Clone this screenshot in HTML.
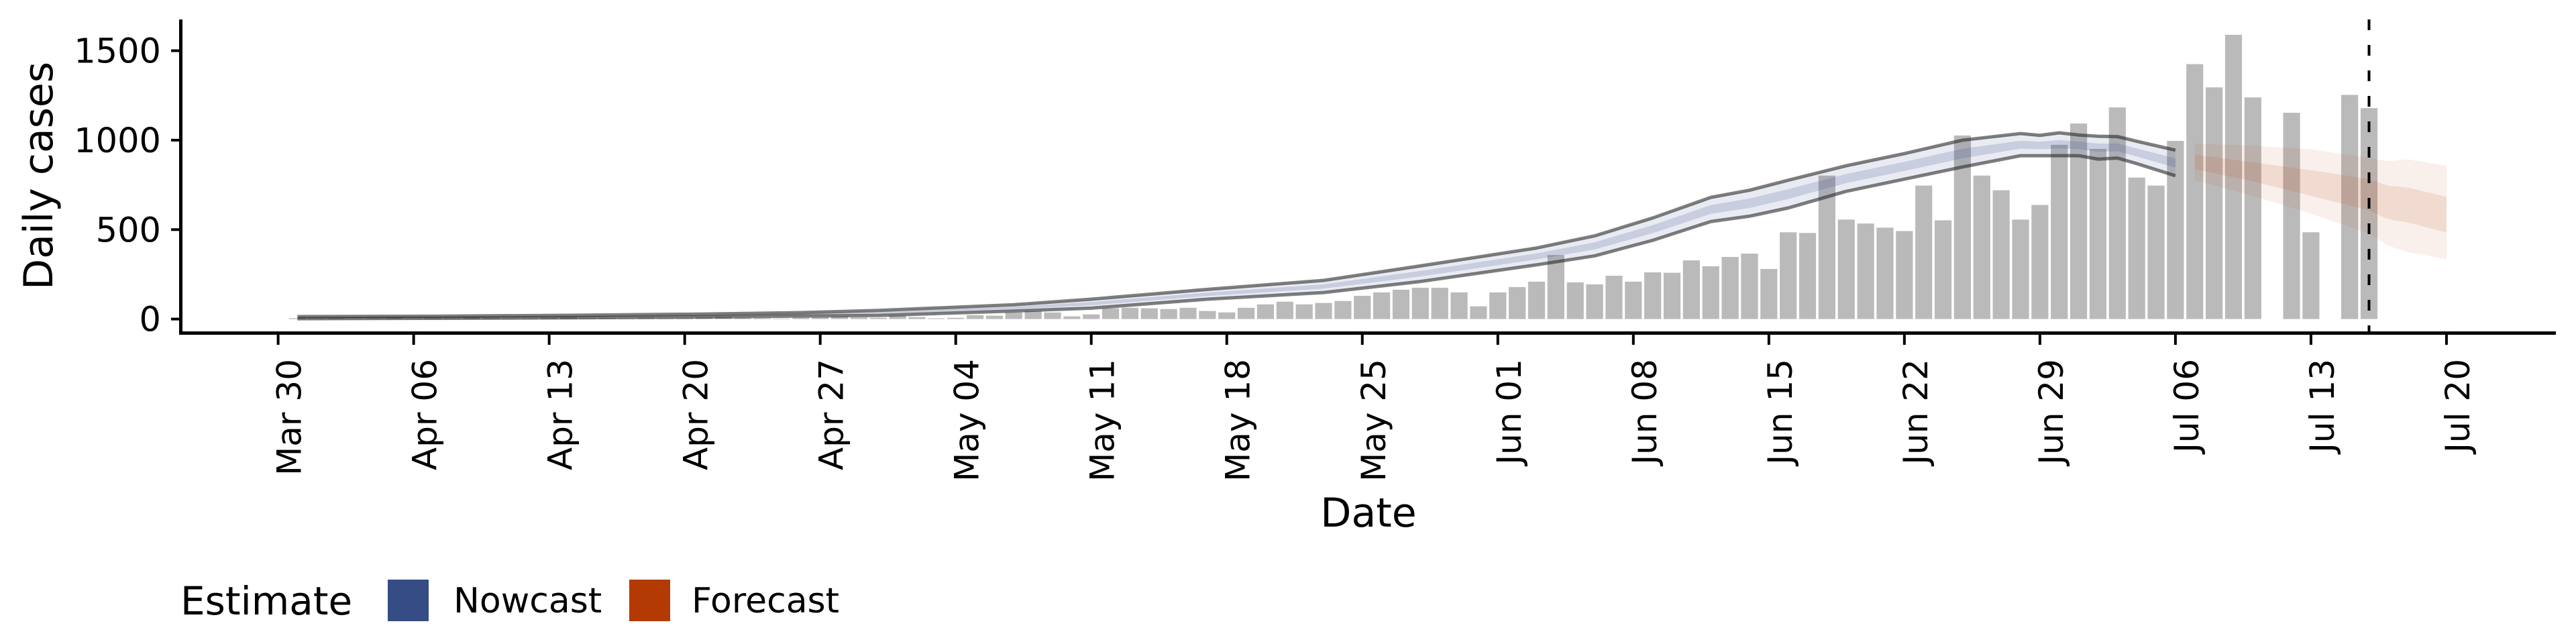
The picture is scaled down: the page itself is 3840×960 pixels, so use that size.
<!DOCTYPE html>
<html><head><meta charset="utf-8"><style>
html,body{margin:0;padding:0;background:#fff;width:3840px;height:960px;overflow:hidden}
svg{display:block}
text{font-family:"DejaVu Sans","Liberation Sans",sans-serif;fill:#000}
</style></head><body>
<svg id="chart" width="3840" height="960" viewBox="0 0 3840 960" xmlns="http://www.w3.org/2000/svg">
<g id="bars"></g>
<g id="bands"></g>
<g id="axes"></g>
<g id="legend">
  <text x="269" y="916" font-size="58">Estimate</text>
  <rect x="578" y="864" width="61" height="62" fill="#354c85"/>
  <text x="676" y="913" font-size="52">Nowcast</text>
  <rect x="938" y="864" width="61" height="62" fill="#b33a03"/>
  <text x="1031" y="913" font-size="52">Forecast</text>
</g>
</svg>
<script>
// ---- data ----
const caseValues = [5,3,6,2,4,8,3,5,4,9,6,3,4,7,10,5,6,4,8,5,6,9,12,7,5,3,8,10,14,9,
7,19,11,4,7,22,19,37,45,37,15,26,60,63,60,56,63,45,37,63,82,97,82,90,101,130,149,164,175,175,149,71,149,179,209,358,205,194,242,209,261,259,
328,295,347,366,280,485,481,802,556,534,511,492,746,552,1026,802,720,556,638,974,1093,951,1183,791,746,996,1425,1295,1589,1239,0,1153,485,0,1253,1179];
const caseStartDay = 1;
const nowDays  = [1,8,15,22,27,31,38,42,48,54,59,65,68,71,74,76,78,81,84,87,90,91,92,93,94,95,96,98];
const nowUp90  = [14,16,21,28,36,48,80,111,166,216,297,397,465,565,680,720,776,857,925,1000,1037,1027,1041,1029,1022,1020,994,944];
const nowLo90  = [2,4,7,11,17,20,45,61,111,148,210,303,353,440,545,575,621,714,782,850,913,913,913,913,894,900,869,801];
const nowUp50  = [10,12,17,23,30,39,69,95,148,194,269,367,429,525,637,674,726,811,879,952,997,991,1000,992,981,982,954,898];
const nowLo50  = [6,8,11,16,23,29,56,77,129,170,238,333,389,480,588,621,671,760,828,898,953,949,954,950,935,938,909,847];
const fcDays   = [99,102,105,108,109,110,112];
const fcUp90   = [981,969,949,900,882,893,857];
const fcLo90   = [776,689,589,477,409,375,334];
const fcUp50   = [919,876,832,782,745,735,683];
const fcLo50   = [838,770,689,608,558,540,484];
const yTicks   = [0,500,1000,1500];
const xTickDays   = [0,7,14,21,28,35,42,49,56,63,70,77,84,91,98,105,112];
const xTickLabels = ["Mar 30","Apr 06","Apr 13","Apr 20","Apr 27","May 04","May 11","May 18","May 25","Jun 01","Jun 08","Jun 15","Jun 22","Jun 29","Jul 06","Jul 13","Jul 20"];
const forecastDateDay = 108;

// ---- scales ----
const NS="http://www.w3.org/2000/svg";
function xs(d){return 414.6 + d*28.86;}
function ys(v){return 475.6 - v*0.26667;}
function mk(tag, attrs, parent){const e=document.createElementNS(NS,tag);for(const k in attrs)e.setAttribute(k,attrs[k]);parent.appendChild(e);return e;}

const gBars=document.getElementById('bars');
caseValues.forEach((v,i)=>{
  if(v<=0) return;
  const d=caseStartDay+i;
  const r=mk('rect',{x:xs(d)-12.6,y:ys(v),width:25.2,height:ys(0)-ys(v),fill:'#bababa'},gBars);
  
  
});

const gB=document.getElementById('bands');
function band(days,up,lo,fill,name){
  let pts=days.map((d,i)=>xs(d)+','+ys(up[i]));
  for(let i=days.length-1;i>=0;i--) pts.push(xs(days[i])+','+ys(lo[i]));
  const p=mk('polygon',{points:pts.join(' '),fill:fill},gB);
  
  
}
function line(days,vals,name){
  const p=mk('polyline',{points:days.map((d,i)=>xs(d)+','+ys(vals[i])).join(' '),fill:'none',stroke:'rgba(40,40,40,0.6)','stroke-width':5,'stroke-linejoin':'round'},gB);
  
  
}
band(nowDays,nowUp90,nowLo90,'rgba(52,74,138,0.11)','nowcast-band-90');
band(nowDays,nowUp50,nowLo50,'rgba(52,74,138,0.18)','nowcast-band-50');
line(nowDays,nowUp90,'nowcast-upper-line');
line(nowDays,nowLo90,'nowcast-lower-line');
band(fcDays,fcUp90,fcLo90,'rgba(190,80,30,0.09)','forecast-band-90');
band(fcDays,fcUp50,fcLo50,'rgba(190,80,30,0.13)','forecast-band-50');

const gA=document.getElementById('axes');
let e;
e=mk('line',{x1:269.5,y1:29,x2:269.5,y2:498.5,stroke:'#000','stroke-width':5},gA);


e=mk('line',{x1:267,y1:496.5,x2:3810,y2:496.5,stroke:'#000','stroke-width':5},gA);


yTicks.forEach(v=>{
  const t=mk('line',{x1:255,y1:ys(v),x2:269,y2:ys(v),stroke:'#000','stroke-width':4},gA);
  
  
  const l=mk('text',{x:240,y:ys(v)+18,'font-size':51,'text-anchor':'end'},gA);
  l.textContent=v;
  
  
});
xTickDays.forEach((d,i)=>{
  const t=mk('line',{x1:xs(d),y1:497,x2:xs(d),y2:514,stroke:'#000','stroke-width':4},gA);
  
  
  const l=mk('text',{x:0,y:0,'font-size':50,'text-anchor':'end',transform:'translate('+(xs(d)+34)+',535) rotate(-90)'},gA);
  l.textContent=xTickLabels[i];
  
  
});
e=mk('line',{x1:xs(forecastDateDay),y1:29,x2:xs(forecastDateDay),y2:496,stroke:'#000','stroke-width':4,'stroke-dasharray':'16 22'},gA);


e=mk('text',{x:2040,y:785,'font-size':60,'text-anchor':'middle'},gA);
e.textContent='Date';


e=mk('text',{x:0,y:0,'font-size':60,'text-anchor':'middle',transform:'translate(78,262) rotate(-90)'},gA);
e.textContent='Daily cases';


</script>
</body></html>
